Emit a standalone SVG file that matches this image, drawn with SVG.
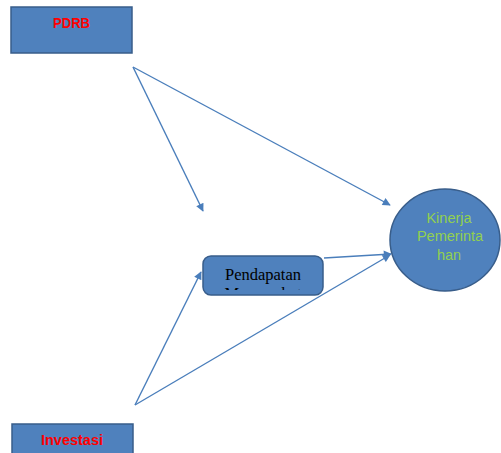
<svg xmlns="http://www.w3.org/2000/svg" width="501" height="453" viewBox="0 0 501 453">
<style>
.box{fill:#4f81bd;stroke:#385d8a;stroke-width:1.5}
.lbl{font-family:"Liberation Sans",Arial,sans-serif;font-weight:bold;font-size:14.5px;fill:#ff0000;text-anchor:middle}
.ser{font-family:"Liberation Serif","Times New Roman",serif;font-size:16.5px;fill:#000;text-anchor:middle}
.grn{font-family:"Liberation Sans",Arial,sans-serif;font-size:14.5px;fill:#92d050;text-anchor:middle}
.con{stroke:#4a7ebb;stroke-width:1.4;fill:none}
</style>
<defs>
<marker id="ah" viewBox="0 0 10 10" refX="9" refY="5" markerWidth="10" markerHeight="8" markerUnits="userSpaceOnUse" orient="auto">
<path d="M0,0 L10,5 L0,10 z" fill="#4a7ebb"/>
</marker>
<clipPath id="pclip"><rect x="203" y="256" width="121" height="34"/></clipPath>
</defs>
<rect width="501" height="453" fill="#ffffff"/>
<g id="connectors">
<line class="con" x1="133" y1="67" x2="203" y2="211" marker-end="url(#ah)"/>
<line class="con" x1="133" y1="67" x2="390" y2="205" marker-end="url(#ah)"/>
<line class="con" x1="324" y1="258" x2="391" y2="254" marker-end="url(#ah)"/>
<line class="con" x1="135" y1="405" x2="201" y2="272" marker-end="url(#ah)"/>
<line class="con" x1="135" y1="405" x2="390" y2="255" marker-end="url(#ah)"/>
</g>
<g id="pdrb">
<rect class="box" x="11" y="7" width="121" height="46"/>
<text class="lbl" x="71.5" y="28" textLength="37" lengthAdjust="spacingAndGlyphs">PDRB</text>
</g>
<g id="pendapatan">
<rect class="box" x="203" y="256" width="120" height="39" rx="8" ry="8"/>
<g clip-path="url(#pclip)">
<text class="ser" x="263" y="280">Pendapatan</text>
<text class="ser" x="263" y="299">Masyarakat</text>
</g>
</g>
<g id="kinerja">
<ellipse cx="445" cy="240" rx="55" ry="51" fill="#4f81bd" stroke="#385d8a" stroke-width="1.5"/>
<text class="grn" x="449" y="223">Kinerja</text>
<text class="grn" x="450" y="241">Pemerinta</text>
<text class="grn" x="449" y="260">han</text>
</g>
<g id="investasi">
<rect class="box" x="12" y="424" width="121" height="35"/>
<text class="lbl" x="72" y="445">Investasi</text>
</g>
</svg>
